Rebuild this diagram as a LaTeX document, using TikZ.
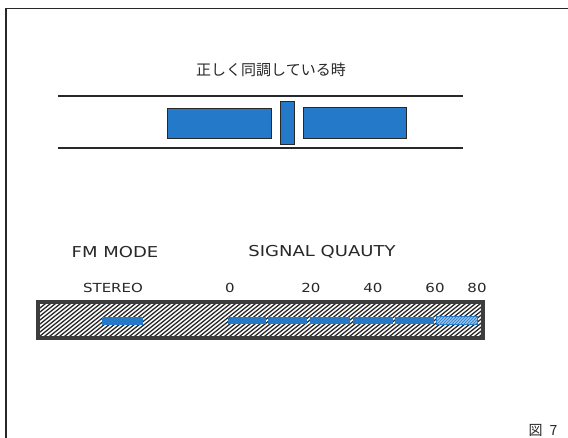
\documentclass[tikz,border=0pt]{standalone}
\usepackage{fontspec}
\newfontfamily\jpfont{Noto Sans CJK JP}
\newfontfamily\widesans[FakeStretch=1.2]{DejaVu Sans}
\definecolor{segblue}{RGB}{36,122,200}
\definecolor{lightseg}{RGB}{150,190,230}
\definecolor{ink}{RGB}{40,40,40}
\tikzset{
  blk/.style={draw=ink, line width=0.9pt, fill=segblue, inner sep=0pt, rectangle},
  seg/.style={fill=segblue, inner sep=0pt, rectangle, minimum height=7.5pt},
  lbl/.style={inner sep=0pt, text=ink},
  rail/.style={draw=ink, line width=2pt},
}
\begin{document}
\begin{tikzpicture}[x=1pt,y=-1pt]
\useasboundingbox[fill=white] (0,0) rectangle (568,438);
% frame
\draw[ink, line width=1.3pt] (6,438) -- (6,8.5) -- (568,8.5);
% title
\node[lbl, font=\jpfont\fontsize{15pt}{17pt}\selectfont] (title) at (271,70) {正しく同調している時};
% rails
\draw[rail] (58,96) -- (463,96);
\draw[rail] (58,148.5) -- (463,148.5);
% tuning blocks
\node[blk, minimum width=104pt, minimum height=30pt] (left) at (219,123) {};
\node[blk, minimum width=14pt, minimum height=43pt] (mid) at (287,122.5) {};
\node[blk, minimum width=103pt, minimum height=31pt] (right) at (354.5,122.5) {};
% labels
\node[lbl, font=\widesans\fontsize{15pt}{17pt}\selectfont] (fm) at (115,252) {FM MODE};
\node[lbl, font=\widesans\fontsize{15pt}{17pt}\selectfont] (sq) at (322,252) {SIGNAL QUAUTY};
\node[lbl, font=\widesans\fontsize{12.5pt}{14pt}\selectfont] (st) at (113,288) {STEREO};
\node[lbl, font=\widesans\fontsize{12.5pt}{14pt}\selectfont] (n0) at (230,288) {0};
\node[lbl, font=\widesans\fontsize{12.5pt}{14pt}\selectfont] (n20) at (311,288) {20};
\node[lbl, font=\widesans\fontsize{12.5pt}{14pt}\selectfont] (n40) at (373,288) {40};
\node[lbl, font=\widesans\fontsize{12.5pt}{14pt}\selectfont] (n60) at (435,288) {60};
\node[lbl, font=\widesans\fontsize{12.5pt}{14pt}\selectfont] (n80) at (477,288) {80};
% hatched bar
\begin{scope}
  \clip (38,302) rectangle (483,338);
  \foreach \i in {0,5,...,520} {
    \draw[ink, line width=1.3pt] (\i,340) -- ++(50,-40);
  }
\end{scope}
\draw[ink!90, line width=4pt] (38,302) rectangle (483,338);
% segments
\node[seg, minimum width=41pt] (stereo) at (122.5,321) {};
\node[seg, minimum width=38pt] (s1) at (247,320.5) {};
\node[seg, minimum width=39pt] (s2) at (287.5,320.5) {};
\node[seg, minimum width=40pt] (s3) at (330,320.5) {};
\node[seg, minimum width=40pt] (s4) at (373,320.5) {};
\node[seg, minimum width=39pt] (s5) at (414.5,320.5) {};
\node[seg, fill=lightseg, minimum width=40pt] (s6) at (457,320.5) {};
\begin{scope}
  \clip (s6.south west) rectangle (s6.north east);
  \foreach \i in {430,433,...,480} {
    \draw[segblue, line width=0.7pt] (\i,325) -- ++(9,-9);
  }
\end{scope}
\draw[segblue, line width=1pt] (s6.south west) rectangle (s6.north east);
% figure label
\node[lbl, font=\jpfont\fontsize{14pt}{16pt}\selectfont] (fig) at (543,430) {図\hspace{7pt}7};
\end{tikzpicture}
\end{document}
